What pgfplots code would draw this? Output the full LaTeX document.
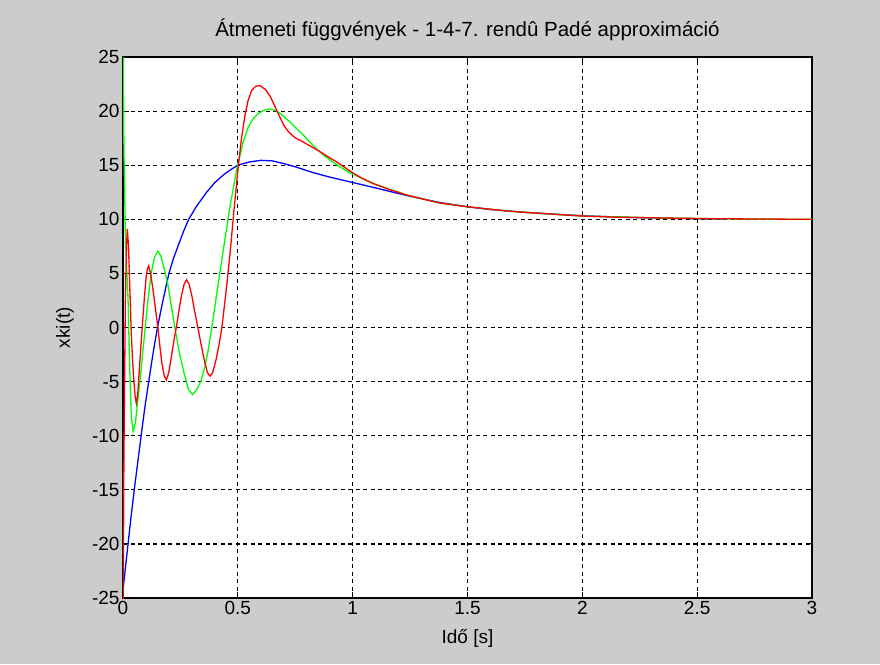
\documentclass[border=0pt]{standalone}
\usepackage{pgfplots}
\pgfplotsset{compat=1.18}
\usepackage{fontspec}
\setmainfont{Liberation Sans}
\definecolor{figbg}{RGB}{204,204,204}
\definecolor{mblue}{RGB}{0,0,255}
\definecolor{mgreen}{RGB}{0,255,0}
\definecolor{mred}{RGB}{255,0,0}
\newcommand{\lblfont}{\fontsize{19}{23}\selectfont}
\newcommand{\ttlfont}{\fontsize{20.5}{24}\selectfont}
\begin{document}
\begin{tikzpicture}[x=1pt,y=1pt]
\fill[figbg] (0,0) rectangle (880,664);
\begin{axis}[
  at={(123pt,66pt)}, anchor=south west,
  scale only axis, width=689pt, height=541pt,
  xmin=0, xmax=3, ymin=-25, ymax=25,
  xtick={0,0.5,1,1.5,2,2.5,3}, xticklabels={0,0.5,1,1.5,2,2.5,3},
  ytick={-25,-20,-15,-10,-5,0,5,10,15,20,25},
  yticklabels={-25,-20,-15,-10,-5,0,5,10,15,20,25},
  tick align=inside, major tick length=6pt,
  xtick pos=both, ytick pos=both,
  xticklabel pos=lower, yticklabel pos=left,
  grid=major,
  major grid style={black, line width=1.2pt, dash pattern=on 4pt off 3.5pt},
  axis line style={black, line width=1.1pt},
  every tick/.style={black, line width=1.1pt},
  axis background/.style={fill=white},
  tick label style={font=\lblfont},
  title={Átmeneti függvények - 1-4-7. rendû Padé approximáció},
  title style={font=\ttlfont, at={(axis description cs:0.5,1.0259)}, anchor=base},
  xlabel={Idő [s]},
  xlabel style={font=\lblfont, at={(axis description cs:0.5,-0.0832)}, anchor=base},
  ylabel={xki(t)},
  ylabel style={font=\lblfont, at={(axis description cs:-0.0842,0.5)}, anchor=center},
]
\addplot[mblue, line width=1.3pt] coordinates {
(0,-24.3) (0.01,-22.3) (0.022,-20) (0.035,-17.5) (0.049,-15) (0.064,-12.5) (0.079,-10)
(0.095,-7.4) (0.112,-5) (0.13,-2.5) (0.150,0) (0.175,2.6) (0.200,5) (0.22,6.4)
(0.241,7.6) (0.262,8.8) (0.286,10) (0.32,11.2) (0.364,12.5) (0.40,13.4) (0.437,14.1)
(0.47,14.6) (0.50,15.0) (0.55,15.3) (0.60,15.45) (0.65,15.4) (0.70,15.15) (0.75,14.85)
(0.83,14.3) (0.90,13.9) (0.99,13.45) (1.09,12.95) (1.235,12.2) (1.38,11.55) (1.50,11.15)
(1.60,10.9) (1.77,10.62) (1.86,10.5) (2.0,10.33) (2.19,10.18) (2.4,10.08) (2.63,10.03)
};
\addplot[mgreen, line width=1.3pt] coordinates {
(0,30) (0.004,16.6) (0.011,8) (0.017,5) (0.022,2.6) (0.029,-3.6) (0.036,-8.2) (0.044,-9.6)
(0.054,-8.8) (0.065,-6.7) (0.076,-4.5) (0.087,-2.1) (0.098,0.3) (0.109,2.6) (0.122,4.9)
(0.137,6.5) (0.152,7.05) (0.165,6.6) (0.18,5.4) (0.196,3.9) (0.21,2.0) (0.225,0.1)
(0.246,-2.4) (0.268,-4.4) (0.285,-5.7) (0.302,-6.2) (0.32,-5.8) (0.338,-5.0) (0.356,-3.7)
(0.37,-2.2) (0.386,-0.1) (0.41,3.4) (0.437,7.2) (0.466,11.2) (0.495,14.6) (0.524,17.2)
(0.545,18.5) (0.567,19.3) (0.59,19.8) (0.611,20.05) (0.635,20.2) (0.66,20.1) (0.684,19.8)
(0.705,19.4) (0.727,19.0) (0.755,18.4) (0.785,17.8) (0.815,17.1) (0.843,16.5) (0.87,16.0)
(0.90,15.5) (0.94,14.9) (0.988,14.3) (1.09,13.3) (1.235,12.25) (1.38,11.5) (1.525,11.1)
(1.67,10.77) (1.815,10.55) (2.0,10.3) (2.35,10.12) (2.7,10.03) (3.0,10.0)
};
\addplot[mred, line width=1.3pt] coordinates {
(0,-30) (0.004,-12) (0.01,2) (0.015,7.5) (0.019,9.1) (0.024,7.5) (0.029,4.1) (0.036,-0.5)
(0.042,-3.2) (0.048,-5.1) (0.053,-6.4) (0.058,-7.0) (0.064,-6.2) (0.072,-3.6) (0.08,-1.1)
(0.087,1.0) (0.094,3.0) (0.10,4.5) (0.106,5.4) (0.112,5.7) (0.12,5.0) (0.13,3.6)
(0.141,1.8) (0.152,0.0) (0.162,-2.0) (0.17,-3.4) (0.18,-4.5) (0.189,-4.85) (0.199,-4.2)
(0.21,-2.8) (0.221,-1.3) (0.232,0) (0.244,1.6) (0.255,3.0) (0.266,4.0) (0.277,4.4)
(0.288,4.0) (0.30,2.9) (0.312,1.5) (0.323,0.3) (0.335,-1.0) (0.346,-2.2) (0.357,-3.3)
(0.368,-4.2) (0.379,-4.5) (0.39,-4.2) (0.405,-3.0) (0.418,-1.6) (0.43,-0.1) (0.447,3.0)
(0.466,6.8) (0.483,10.8) (0.502,14.9) (0.516,17.5) (0.531,19.6) (0.545,21.0) (0.56,21.9)
(0.578,22.3) (0.597,22.35) (0.62,22.0) (0.64,21.4) (0.66,20.5) (0.684,19.4) (0.70,18.7)
(0.72,18.1) (0.74,17.7) (0.756,17.45) (0.78,17.2) (0.80,16.95) (0.83,16.6) (0.858,16.25)
(0.895,15.75) (0.93,15.3) (0.965,14.8) (1.003,14.25) (1.045,13.75) (1.09,13.3) (1.16,12.75)
(1.235,12.25) (1.31,11.85) (1.38,11.5) (1.45,11.3) (1.525,11.1) (1.6,10.93) (1.67,10.77)
(1.74,10.65) (1.815,10.55) (1.9,10.43) (2.0,10.3) (2.15,10.2) (2.35,10.12) (2.55,10.06)
(2.75,10.03) (3.0,10.0)
};
\end{axis}
\end{tikzpicture}
\end{document}
